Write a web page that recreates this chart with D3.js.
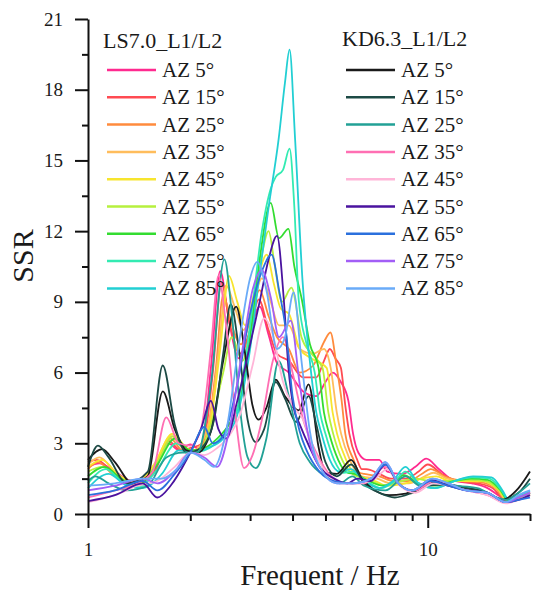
<!DOCTYPE html>
<html>
<head>
<meta charset="utf-8">
<script src="https://cdn.jsdelivr.net/npm/d3@7"></script>
<style>
  body { margin: 0; background: #fff; }
  text { font-family: "Liberation Serif", "Times New Roman", serif; fill: #1a1a1a; }
</style>
</head>
<body>
<div id="chart"></div>
<script>
// SSR curves, [frequency Hz, SSR] pairs
const azimuths = [5, 15, 25, 35, 45, 55, 65, 75, 85];

const ls5 = [[1,2.0],[1.08,2.15],[1.2,1.8],[1.35,1.4],[1.55,1.65],[1.72,3.0],[1.86,2.7],[2.0,2.95],[2.15,2.7],[2.3,6.2],[2.45,10.3],[2.6,8.2],[2.78,6.6],[2.95,7.4],[3.2,8.8],[3.4,7.6],[3.6,6.4],[3.9,6.0],[4.3,5.2],[4.7,5.0],[5.0,5.6],[5.25,6.0],[5.55,5.6],[5.84,4.8],[6.03,3.4],[6.25,2.6],[6.6,2.3],[7.2,2.3],[7.6,1.8],[8.4,1.7],[9.2,2.0],[9.9,2.35],[10.8,1.9],[12,1.4],[13.5,1.3],[15,1.1],[16.5,0.7],[17.5,0.55],[19,0.8],[20,0.95]];
const ls15 = [[1,2.2],[1.06,2.3],[1.2,1.7],[1.35,1.4],[1.55,1.7],[1.72,3.1],[1.88,2.7],[2.0,2.8],[2.18,3.0],[2.33,6.0],[2.47,9.8],[2.62,8.0],[2.8,6.8],[3.0,7.8],[3.18,9.1],[3.4,7.8],[3.6,6.8],[3.9,6.5],[4.3,5.8],[4.7,5.8],[4.95,6.5],[5.15,7.0],[5.35,6.6],[5.55,6.2],[5.72,4.6],[5.88,3.4],[6.2,2.3],[6.4,1.9],[6.6,1.9],[7.2,1.7],[7.8,1.5],[8.6,1.5],[9.4,1.8],[10.0,2.1],[11,1.7],[12.3,1.4],[14,1.3],[15.5,1.1],[17,0.6],[18.5,0.7],[20,0.9]];
const ls25 = [[1,1.9],[1.07,2.2],[1.2,1.6],[1.35,1.4],[1.55,1.9],[1.75,3.2],[1.9,2.7],[2.05,2.7],[2.25,3.6],[2.38,6.2],[2.5,9.3],[2.65,8.0],[2.82,7.2],[3.0,8.2],[3.2,9.5],[3.4,8.4],[3.6,7.5],[3.9,7.0],[4.2,6.0],[4.6,6.3],[4.95,7.3],[5.17,7.7],[5.4,6.2],[5.58,4.8],[5.72,3.4],[6.05,2.3],[6.3,1.75],[6.5,1.7],[7.2,1.6],[7.9,1.4],[8.8,1.4],[9.6,1.7],[10.2,1.9],[11.2,1.6],[12.6,1.4],[14.2,1.35],[15.8,1.1],[17,0.6],[18.5,0.7],[20,0.85]];
const ls35 = [[1,2.1],[1.08,2.4],[1.2,1.8],[1.35,1.3],[1.55,2.0],[1.76,3.3],[1.9,2.8],[2.05,2.7],[2.28,4.0],[2.42,6.8],[2.55,9.7],[2.7,8.8],[2.87,7.8],[3.05,8.8],[3.25,10.0],[3.45,9.0],[3.65,8.0],[3.9,8.0],[4.2,7.0],[4.6,6.8],[4.95,7.0],[5.18,6.2],[5.4,4.3],[5.56,3.4],[5.9,2.3],[6.2,1.75],[6.4,1.6],[7.1,1.5],[7.8,1.3],[8.8,1.3],[9.8,1.6],[10.4,1.75],[11.4,1.5],[12.8,1.4],[14.4,1.4],[16,1.1],[17,0.6],[18.5,0.7],[20,0.8]];
const ls45 = [[1,2.0],[1.1,2.3],[1.22,1.7],[1.4,1.3],[1.58,2.2],[1.77,3.4],[1.95,2.8],[2.1,2.6],[2.3,4.0],[2.45,7.0],[2.6,10.1],[2.75,9.0],[2.9,8.0],[3.1,9.5],[3.36,11.0],[3.52,9.8],[3.7,8.7],[3.9,8.5],[4.2,7.0],[4.55,6.6],[5.04,6.2],[5.25,4.3],[5.41,3.4],[5.75,2.3],[6.05,1.75],[6.3,1.6],[7.0,1.4],[7.6,1.2],[8.6,1.3],[9.6,1.5],[10.6,1.6],[11.6,1.4],[13,1.4],[14.6,1.4],[16.2,1.0],[17.2,0.6],[18.5,0.7],[20,0.8]];
const ls55 = [[1,1.8],[1.1,2.0],[1.22,1.6],[1.4,1.2],[1.6,2.2],[1.78,3.3],[1.95,2.7],[2.1,2.6],[2.3,3.8],[2.5,6.0],[2.65,7.5],[2.85,6.5],[3.05,8.5],[3.25,11.0],[3.4,12.0],[3.55,10.5],[3.72,9.0],[3.97,9.6],[4.25,7.5],[4.55,6.8],[4.9,6.2],[5.1,4.3],[5.27,3.4],[5.6,2.3],[5.95,1.75],[6.2,1.6],[6.8,1.4],[7.5,1.2],[8.4,1.4],[9.2,1.5],[10.2,1.4],[11.8,1.4],[13.2,1.45],[14.8,1.4],[16.3,1.0],[17.2,0.6],[18.5,0.7],[20,0.8]];
const ls65 = [[1,1.6],[1.12,2.0],[1.25,1.5],[1.4,1.2],[1.6,2.1],[1.8,3.2],[2.0,2.7],[2.2,2.8],[2.4,3.2],[2.6,3.8],[2.8,4.8],[3.0,7.5],[3.2,10.8],[3.45,13.2],[3.65,11.7],[3.89,12.1],[4.05,10.5],[4.26,9.1],[4.5,7.2],[4.77,6.2],[4.95,4.3],[5.13,3.4],[5.45,2.3],[5.8,1.75],[6.1,1.7],[6.7,1.4],[7.4,1.2],[8.0,1.4],[8.5,1.65],[9.4,1.3],[10.5,1.2],[12,1.4],[13.4,1.5],[15,1.45],[16.4,1.0],[17.2,0.6],[18.5,0.7],[20,0.9]];
const ls75 = [[1,1.3],[1.13,1.9],[1.25,1.4],[1.4,1.1],[1.6,1.9],[1.82,3.0],[2.0,2.6],[2.2,2.7],[2.45,3.2],[2.73,4.3],[3.0,8.0],[3.25,12.0],[3.45,13.8],[3.57,14.3],[3.75,14.6],[3.92,15.5],[4.05,13.0],[4.17,9.1],[4.4,7.2],[4.65,6.0],[4.82,4.3],[5.0,3.4],[5.3,2.3],[5.65,1.75],[6.0,1.8],[6.6,1.4],[7.3,1.1],[8.0,1.4],[8.6,1.8],[9.4,1.3],[10.5,1.1],[12,1.4],[13.5,1.55],[15.2,1.5],[16.5,1.0],[17.3,0.6],[18.5,0.7],[20,0.9]];
const ls85 = [[1,1.1],[1.15,1.7],[1.3,1.2],[1.45,1.1],[1.65,1.7],[1.85,2.7],[2.05,2.6],[2.25,2.8],[2.5,3.2],[2.75,4.2],[3.0,7.0],[3.18,9.9],[3.4,13.0],[3.64,15.9],[3.8,18.3],[3.92,19.7],[4.07,15.9],[4.28,9.9],[4.52,6.2],[4.7,4.3],[4.87,3.4],[5.15,2.3],[5.5,1.8],[5.95,1.9],[6.5,1.4],[7.2,1.1],[7.9,1.4],[8.6,2.0],[9.4,1.3],[10.5,1.1],[12,1.4],[13.6,1.6],[15.4,1.55],[16.6,1.0],[17.3,0.6],[18.5,0.75],[20,1.0]];

const kd5 = [[1,2.3],[1.1,2.75],[1.2,2.2],[1.35,1.3],[1.5,1.6],[1.66,5.2],[1.8,3.6],[1.95,2.7],[2.1,2.6],[2.3,3.5],[2.5,6.5],[2.73,8.8],[2.9,6.8],[3.05,4.6],[3.18,4.0],[3.35,4.5],[3.57,5.7],[3.8,5.0],[4.17,4.4],[4.46,5.5],[4.77,2.85],[5.0,1.75],[5.4,1.7],[5.95,2.3],[6.4,1.5],[7.0,1.0],[7.7,0.8],[8.5,0.85],[9.5,1.1],[10.5,1.35],[11.5,1.2],[13,1.1],[15,0.9],[16.5,0.6],[18.5,1.1],[20,1.8]];
const kd15 = [[1,2.0],[1.07,2.9],[1.15,2.4],[1.3,1.3],[1.5,1.8],[1.66,6.3],[1.8,3.8],[1.95,2.6],[2.15,2.8],[2.35,4.0],[2.5,6.8],[2.63,8.9],[2.78,7.0],[2.95,4.0],[3.12,3.05],[3.3,3.6],[3.57,5.6],[3.8,4.9],[4.1,3.9],[4.46,5.0],[4.7,3.8],[5.0,2.2],[5.4,1.6],[5.95,2.1],[6.5,1.3],[7.2,0.9],[8,0.7],[9,0.9],[10,1.2],[11.5,1.25],[13,1.1],[15,0.9],[16.5,0.6],[18.5,0.9],[20,1.5]];
const kd25 = [[1,1.4],[1.05,1.6],[1.15,1.3],[1.3,1.0],[1.5,1.2],[1.7,2.4],[1.9,2.6],[2.1,2.6],[2.3,5.5],[2.52,10.8],[2.65,8.5],[2.8,4.5],[2.95,2.4],[3.12,1.95],[3.35,3.2],[3.64,6.5],[3.9,5.0],[4.2,3.0],[4.5,2.2],[5,1.6],[5.5,1.3],[6,1.6],[6.5,1.2],[7.5,1.0],[8.6,1.6],[9.5,1.2],[10.5,1.3],[12,1.2],[14,1.1],[16,0.7],[17,0.6],[18.5,0.9],[20,1.3]];
const kd35 = [[1,0.7],[1.2,1.0],[1.4,1.3],[1.55,1.8],[1.7,4.1],[1.85,3.0],[2.0,2.9],[2.15,3.6],[2.3,7.0],[2.42,10.1],[2.55,8.0],[2.7,4.5],[2.88,1.95],[3.05,2.5],[3.25,4.0],[3.5,6.5],[3.75,7.5],[4.0,6.0],[4.3,4.0],[4.7,2.6],[5.2,1.6],[5.8,1.3],[6.5,1.3],[7.5,2.0],[8.3,1.2],[9.2,1.0],[10.4,1.4],[11.5,1.2],[13,1.0],[15,0.8],[17,0.5],[18.5,0.7],[20,0.9]];
const kd45 = [[1,0.5],[1.2,0.8],[1.4,1.2],[1.6,1.4],[1.8,2.0],[2.0,2.6],[2.2,2.5],[2.4,2.8],[2.6,3.3],[2.8,4.2],[3.05,6.3],[3.3,8.3],[3.5,7.6],[3.75,5.6],[4.0,4.6],[4.3,4.0],[4.6,2.8],[5.0,1.8],[5.5,1.3],[6.2,1.3],[7.0,1.5],[7.6,1.9],[8.3,1.2],[9.2,0.9],[10.4,1.3],[11.5,1.2],[13,1.0],[15,0.8],[17,0.45],[18.5,0.6],[20,0.8]];
const kd55 = [[1,0.55],[1.2,0.8],[1.45,1.3],[1.6,0.7],[1.75,1.2],[1.95,2.3],[2.15,3.6],[2.3,4.8],[2.42,3.6],[2.55,3.2],[2.75,4.8],[2.95,6.7],[3.2,9.0],[3.4,10.8],[3.6,11.8],[3.77,9.1],[3.89,6.2],[4.03,4.5],[4.2,3.8],[4.5,2.8],[4.8,2.0],[5.3,1.5],[5.8,1.3],[6.2,1.5],[6.8,1.4],[7.5,2.1],[8.2,1.3],[9,1.0],[10.2,1.45],[11.5,1.2],[13,1.0],[15,0.9],[17,0.5],[18.5,0.6],[20,0.8]];
const kd65 = [[1,0.8],[1.2,1.0],[1.45,1.4],[1.6,1.0],[1.8,1.7],[2.0,2.6],[2.2,3.7],[2.33,3.0],[2.5,3.3],[2.75,5.5],[3.0,8.5],[3.25,10.3],[3.47,11.0],[3.65,9.5],[3.83,7.7],[4.0,5.0],[4.2,3.5],[4.4,2.7],[4.8,1.8],[5.3,1.4],[6.0,1.3],[6.8,1.5],[7.5,2.1],[8.2,1.3],[9,1.0],[10.2,1.4],[11.5,1.2],[13,1.0],[15,0.9],[17,0.5],[18.5,0.6],[20,0.7]];
const kd75 = [[1,1.0],[1.2,1.2],[1.45,1.5],[1.6,1.3],[1.8,1.8],[2.0,2.6],[2.2,2.4],[2.4,2.0],[2.6,3.5],[2.85,7.0],[3.05,9.5],[3.25,10.35],[3.45,9.2],[3.65,7.5],[3.95,8.2],[4.2,5.5],[4.5,3.0],[4.9,1.8],[5.4,1.3],[6,1.3],[6.8,1.5],[7.5,2.2],[8.2,1.3],[9,1.0],[10.3,1.5],[11.5,1.3],[13,1.0],[15,0.9],[17,0.5],[18.5,0.7],[20,0.9]];
const kd85 = [[1,1.2],[1.2,1.3],[1.45,1.5],[1.65,1.5],[1.85,2.0],[2.0,2.6],[2.2,2.3],[2.35,2.0],[2.55,3.5],[2.8,7.5],[3.0,10.0],[3.15,10.7],[3.35,9.5],[3.6,7.0],[3.8,7.5],[4.03,9.4],[4.25,6.5],[4.5,3.5],[4.9,1.8],[5.4,1.3],[6,1.3],[6.8,1.5],[7.5,2.2],[8.2,1.3],[9,1.0],[10.3,1.5],[11.5,1.3],[13,1.0],[15,0.9],[17,0.5],[18.5,0.8],[20,1.0]];

const lsSeries = [ls5, ls15, ls25, ls35, ls45, ls55, ls65, ls75, ls85];
const kdSeries = [kd5, kd15, kd25, kd35, kd45, kd55, kd65, kd75, kd85];

const lsColors = ['#ff2a8f', '#ff4b52', '#ff8b3d', '#ffbd5c', '#f7e52e', '#b6f03e', '#33dc30', '#33ebb2', '#22cfd3'];
const kdColors = ['#1a1a1a', '#1d4a45', '#22a196', '#ff6fb3', '#ffb5d8', '#4a139f', '#2b70dd', '#a25ef6', '#6aabf8'];

const xTicks = [1, 2, 3, 4, 5, 6, 7, 8, 9, 10, 20];
const yTicks = d3.range(0, 21.01, 1.5);

const width = 535, height = 590;

const svg = d3.select('#chart').append('svg')
    .attr('width', width)
    .attr('height', height);

const x = d3.scaleLog().domain([1, 20]).range([88, 530]);
const y = d3.scaleLinear().domain([0, 21]).range([514, 19]);

const line = d3.line()
    .x(d => x(d[0]))
    .y(d => y(d[1]))
    .curve(d3.curveMonotoneX);

// curves: LS group first, KD group on top
const curves = svg.append('g').attr('class', 'curves');
lsSeries.forEach((s, i) => {
    curves.append('path').attr('d', line(s))
        .attr('fill', 'none').attr('stroke', lsColors[i]).attr('stroke-width', 1.8);
});
kdSeries.forEach((s, i) => {
    curves.append('path').attr('d', line(s))
        .attr('fill', 'none').attr('stroke', kdColors[i]).attr('stroke-width', 1.8);
});

// x axis
const xAxis = svg.append('g')
    .attr('transform', `translate(0,${y(0)})`)
    .call(d3.axisBottom(x).tickValues(xTicks).tickSizeOuter(0)
        .tickFormat(d => (d === 1 || d === 10) ? d : ''));
xAxis.selectAll('.tick line')
    .attr('y2', d => (d === 1 || d === 10) ? 14 : 7)
    .attr('stroke-width', 2);
xAxis.selectAll('.tick text')
    .attr('y', 29).attr('font-size', '19px');

// y axis
const yAxis = svg.append('g')
    .attr('transform', `translate(${x(1)},0)`)
    .call(d3.axisLeft(y).tickValues(yTicks).tickSizeOuter(0)
        .tickFormat(d => (d % 3 === 0) ? d : ''));
yAxis.selectAll('.tick line')
    .attr('x2', d => (d % 3 === 0) ? -13 : -6)
    .attr('stroke-width', 2);
yAxis.selectAll('.tick text')
    .attr('x', -25).attr('font-size', '19px');

svg.selectAll('.domain').attr('stroke-width', 2).attr('stroke', '#111');
svg.selectAll('.tick line').attr('stroke', '#111');
svg.selectAll('.tick text').attr('fill', '#1a1a1a')
    .style('font-family', '"Liberation Serif", "Times New Roman", serif');

// axis titles
svg.append('text')
    .attr('x', 320).attr('y', 585)
    .attr('text-anchor', 'middle')
    .attr('font-size', '29px')
    .text('Frequent / Hz');

svg.append('text')
    .attr('transform', 'translate(33,256) rotate(-90)')
    .attr('text-anchor', 'middle')
    .attr('font-size', '30px')
    .text('SSR');

// legends
function drawLegend(title, colors, lx, ty) {
    const g = svg.append('g').attr('class', 'legend');
    g.append('text')
        .attr('x', lx - 4).attr('y', ty)
        .attr('font-size', '22px')
        .text(title);
    azimuths.forEach((a, i) => {
        const ry = 70 + i * 27.3;
        g.append('line')
            .attr('x1', lx).attr('x2', lx + 49)
            .attr('y1', ry).attr('y2', ry)
            .attr('stroke', colors[i]).attr('stroke-width', 2.5);
        g.append('text')
            .attr('x', lx + 55).attr('y', ry + 7)
            .attr('font-size', '21px')
            .text('AZ ' + a + '°');
    });
}
drawLegend('LS7.0_L1/L2', lsColors, 107, 48);
drawLegend('KD6.3_L1/L2', kdColors, 346, 46);
</script>
</body>
</html>
